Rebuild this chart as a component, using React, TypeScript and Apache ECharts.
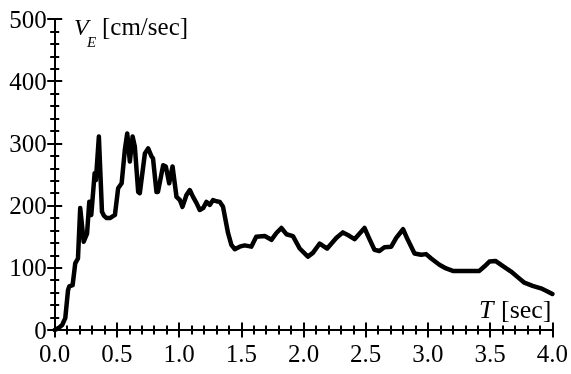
import React, { useEffect, useRef } from "react";
import * as echarts from "echarts";

// Period T [sec] and velocity spectrum V_E [cm/sec]
const periods = [
  0.0, 0.03, 0.06, 0.085, 0.107, 0.117, 0.144, 0.165, 0.187, 0.205, 0.233, 0.26,
  0.278, 0.294, 0.321, 0.331, 0.355, 0.38, 0.395, 0.417, 0.444, 0.484, 0.51, 0.538,
  0.564, 0.583, 0.604, 0.626, 0.644, 0.671, 0.684, 0.725, 0.751, 0.778, 0.79, 0.818,
  0.83, 0.872, 0.893, 0.92, 0.947, 0.979, 1.006, 1.027, 1.059, 1.086, 1.112, 1.14,
  1.166, 1.193, 1.22, 1.246, 1.273, 1.3, 1.327, 1.353, 1.393, 1.42, 1.447, 1.487,
  1.527, 1.58, 1.62, 1.688, 1.742, 1.782, 1.822, 1.862, 1.915, 1.969, 2.035, 2.075,
  2.13, 2.19, 2.263, 2.316, 2.37, 2.41, 2.49, 2.53, 2.57, 2.61, 2.65, 2.705,
  2.745, 2.8, 2.838, 2.892, 2.945, 2.985, 3.026, 3.092, 3.146, 3.2, 3.307, 3.413,
  3.453, 3.494, 3.542, 3.6, 3.668, 3.721, 3.775, 3.841, 3.908, 3.961, 4.0,
];
const velocities = [
  0, 3, 8, 19, 64, 70, 72, 107, 115, 196, 142, 155,
  206, 185, 252, 241, 311, 190, 184, 180, 180, 185, 228, 236,
  290, 316, 271, 311, 295, 222, 220, 284, 292, 279, 276, 222,
  222, 265, 263, 236, 263, 214, 209, 198, 217, 225, 214, 204,
  193, 196, 206, 201, 209, 207, 206, 198, 156, 137, 130, 134,
  136, 134, 150, 151, 145, 156, 164, 154, 151, 131, 118, 124,
  139, 131, 148, 157, 151, 146, 164, 146, 129, 127, 133, 134,
  148, 162, 145, 123, 121, 122, 115, 105, 99, 95, 95, 95,
  102, 110, 111, 103, 94, 85, 76, 71, 67, 62, 58,
];

const periodTicks = { min: 0, max: 4, step: 0.5, minorSplit: 5 };
const velocityTicks = { min: 0, max: 500, step: 100, minorSplit: 5 };

const SERIF = "Liberation Serif, serif";
const INK = "#000";

function axisPair(
  kind: "x" | "y",
  range: { min: number; max: number; step: number; minorSplit: number },
  format: (v: number) => string
) {
  const base = {
    type: "value" as const,
    min: range.min,
    max: range.max,
    interval: range.step,
    position: kind === "x" ? "bottom" : "left",
    axisLine: { show: true, onZero: false, lineStyle: { color: INK, width: 2 } },
    splitLine: { show: false },
    minorSplitLine: { show: false },
  };
  // Two copies on the same edge: one with outward ticks, one with inward,
  // so every tick crosses the axis line.
  return [
    {
      ...base,
      axisTick: { show: true, inside: false, length: 7.5, lineStyle: { color: INK, width: 2 } },
      minorTick: { show: true, splitNumber: range.minorSplit, length: 4.5, lineStyle: { color: INK, width: 2 } },
      axisLabel: {
        show: true,
        margin: kind === "x" ? 11 : 8,
        fontSize: 25,
        fontFamily: SERIF,
        color: INK,
        formatter: format,
      },
    },
    {
      ...base,
      axisTick: { show: true, inside: true, length: 7.5, lineStyle: { color: INK, width: 2 } },
      minorTick: { show: true, splitNumber: range.minorSplit, length: 4.5, lineStyle: { color: INK, width: 2 } },
      axisLabel: { show: false },
    },
  ];
}

export default function App() {
  const ref = useRef<HTMLDivElement>(null);

  useEffect(() => {
    if (!ref.current) return;
    const chart = echarts.init(ref.current, undefined, { renderer: "svg" });
    const points = periods.map((t, i) => [t, velocities[i]]);

    chart.setOption({
      animation: false,
      grid: { left: 54.7, right: 18.3, top: 19, bottom: 44 },
      xAxis: axisPair("x", periodTicks, (v: number) => v.toFixed(1)),
      yAxis: axisPair("y", velocityTicks, (v: number) => String(Math.round(v))),
      series: [
        {
          type: "line",
          data: points,
          showSymbol: false,
          lineStyle: { color: INK, width: 4.5, join: "round", cap: "round" },
        },
      ],
      graphic: [
        {
          type: "text",
          left: 74,
          top: 15,
          style: { text: "V", fontFamily: SERIF, fontSize: 24, fontStyle: "italic", fill: INK },
        },
        {
          type: "text",
          left: 87,
          top: 34,
          style: { text: "E", fontFamily: SERIF, fontSize: 15, fontStyle: "italic", fill: INK },
        },
        {
          type: "text",
          left: 102,
          top: 14,
          style: { text: "[cm/sec]", fontFamily: SERIF, fontSize: 25, fill: INK },
        },
        {
          type: "text",
          left: 479,
          top: 296,
          style: { text: "T", fontFamily: SERIF, fontSize: 26, fontStyle: "italic", fill: INK },
        },
        {
          type: "text",
          left: 501,
          top: 296,
          style: { text: "[sec]", fontFamily: SERIF, fontSize: 26, fill: INK },
        },
      ],
    });

    return () => chart.dispose();
  }, []);

  return <div ref={ref} style={{ position: "fixed", left: 0, top: 0, width: 571, height: 374 }} />;
}
